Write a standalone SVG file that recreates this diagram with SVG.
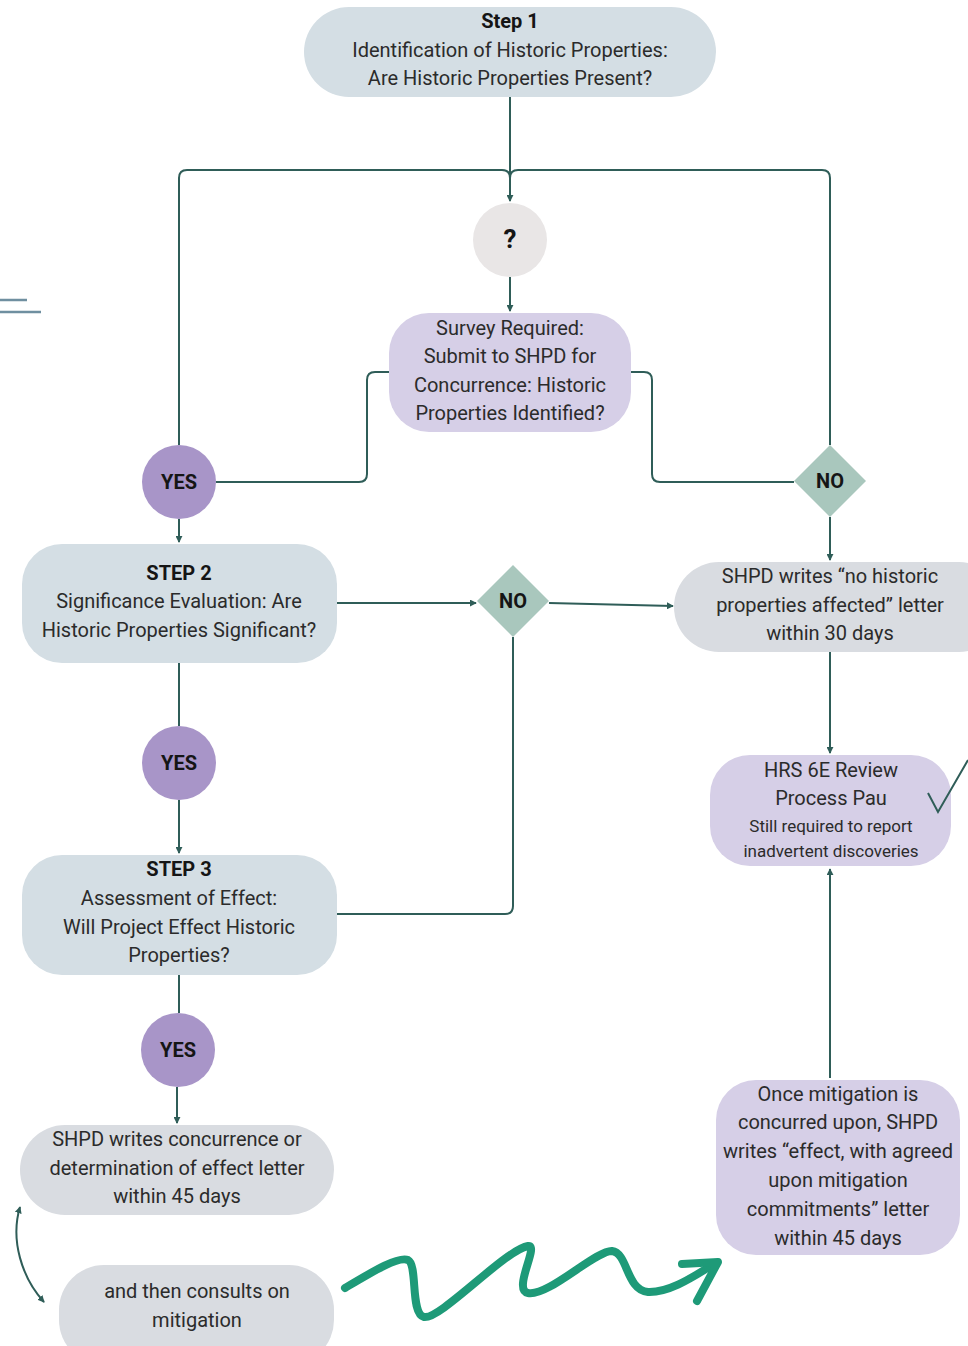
<svg xmlns="http://www.w3.org/2000/svg" width="968" height="1346" viewBox="0 0 968 1346">
<defs>
<marker id="arr" viewBox="0 0 8 8" refX="7" refY="4" markerWidth="7" markerHeight="7" markerUnits="userSpaceOnUse" orient="auto-start-reverse"><path d="M0,0 L8,4 L0,8 z" fill="#2f5d58"/></marker>
<style>
.t{font-family:Roboto,"Liberation Sans",sans-serif;font-size:20px;fill:#2b2b2b;text-anchor:middle}
.b{font-weight:bold;fill:#151515}
.s{font-size:17px}
.step{fill:#d4dee4}
.grey{fill:#d9dce1}
.purp{fill:#d6cfe7}
.yes{fill:#a895c8}
.no{fill:#a9c7bd}
.ln{fill:none;stroke:#2f5d58;stroke-width:2}
</style>
</defs>
<rect width="968" height="1346" fill="#ffffff"/>

<g id="connectors">
<path class="ln" d="M510,97 V201" marker-end="url(#arr)"/>
<path class="ln" d="M179,445 V178 Q179,170 187,170 H502 Q510,170 510,178"/>
<path class="ln" d="M830,445 V178 Q830,170 822,170 H518 Q510,170 510,178"/>
<path class="ln" d="M510,277 V311" marker-end="url(#arr)"/>
<path class="ln" d="M389,372 H375 Q367,372 367,380 V474 Q367,482 359,482 H216"/>
<path class="ln" d="M631,372 H644 Q652,372 652,380 V474 Q652,482 660,482 H794"/>
<path class="ln" d="M179,519 V542" marker-end="url(#arr)"/>
<path class="ln" d="M337,603 H476" marker-end="url(#arr)"/>
<path class="ln" d="M549,603 L673,606" marker-end="url(#arr)"/>
<path class="ln" d="M513,637 V906 Q513,914 505,914 H337"/>
<path class="ln" d="M830,517 V560" marker-end="url(#arr)"/>
<path class="ln" d="M830,652 V753" marker-end="url(#arr)"/>
<path class="ln" d="M179,663 V726"/>
<path class="ln" d="M179,800 V853" marker-end="url(#arr)"/>
<path class="ln" d="M179,975 V1013"/>
<path class="ln" d="M177,1087 V1123" marker-end="url(#arr)"/>
<path class="ln" d="M830,1078 V869" marker-end="url(#arr)"/>
<path class="ln" d="M20,1207 C10,1240 22,1278 44,1302" marker-start="url(#arr)" marker-end="url(#arr)"/>
<path d="M345,1288 C372,1272 398,1256 408,1260 C418,1265 410,1314 424,1317 C440,1320 505,1250 528,1246 C540,1244 512,1290 528,1293 C548,1297 596,1250 612,1251 C628,1253 626,1290 648,1292 C672,1293 700,1272 716,1263" fill="none" stroke="#1e9a78" stroke-width="8" stroke-linecap="round" stroke-linejoin="round"/>
<path d="M682,1264 L718,1262 L697,1301" fill="none" stroke="#1e9a78" stroke-width="8" stroke-linecap="round" stroke-linejoin="round"/>
</g>

<g id="step1">
<rect class="step" x="304" y="7" width="412" height="90" rx="45"/>
<text class="t b" x="510" y="28">Step 1</text>
<text class="t" x="510" y="57">Identification of Historic Properties:</text>
<text class="t" x="510" y="85">Are Historic Properties Present?</text>
</g>

<g id="q">
<circle cx="510" cy="240" r="37" fill="#e9e6e6"/>
<text class="t b" x="510" y="248" style="font-size:26px">?</text>
</g>

<g id="survey">
<rect class="purp" x="389" y="313" width="242" height="119" rx="40"/>
<text class="t" x="510" y="335">Survey Required:</text>
<text class="t" x="510" y="363">Submit to SHPD for</text>
<text class="t" x="510" y="392">Concurrence: Historic</text>
<text class="t" x="510" y="420">Properties Identified?</text>
</g>

<g id="yes1">
<circle class="yes" cx="179" cy="482" r="37"/>
<text class="t b" x="179" y="489">YES</text>
</g>

<g id="no1">
<path class="no" d="M830,445 L866,481 L830,517 L794,481 z"/>
<text class="t b" x="830" y="488">NO</text>
</g>

<g id="step2">
<rect class="step" x="22" y="544" width="315" height="119" rx="40"/>
<text class="t b" x="179" y="580">STEP 2</text>
<text class="t" x="179" y="608">Significance Evaluation: Are</text>
<text class="t" x="179" y="637">Historic Properties Significant?</text>
</g>

<g id="no2">
<path class="no" d="M513,565 L549,601 L513,637 L477,601 z"/>
<text class="t b" x="513" y="608">NO</text>
</g>

<g id="nohist">
<rect class="grey" x="674" y="562" width="330" height="90" rx="45"/>
<text class="t" x="830" y="583">SHPD writes “no historic</text>
<text class="t" x="830" y="612">properties affected” letter</text>
<text class="t" x="830" y="640">within 30 days</text>
</g>

<g id="yes2">
<circle class="yes" cx="179" cy="763" r="37"/>
<text class="t b" x="179" y="770">YES</text>
</g>

<g id="hrs">
<rect class="purp" x="710" y="755" width="241" height="111" rx="40"/>
<text class="t" x="831" y="777">HRS 6E Review</text>
<text class="t" x="831" y="805">Process Pau</text>
<text class="t s" x="831" y="832">Still required to report</text>
<text class="t s" x="831" y="857">inadvertent discoveries</text>
</g>

<g id="step3">
<rect class="step" x="22" y="855" width="315" height="120" rx="40"/>
<text class="t b" x="179" y="876">STEP 3</text>
<text class="t" x="179" y="905">Assessment of Effect:</text>
<text class="t" x="179" y="934">Will Project Effect Historic</text>
<text class="t" x="179" y="962">Properties?</text>
</g>

<g id="yes3">
<circle class="yes" cx="178" cy="1050" r="37"/>
<text class="t b" x="178" y="1057">YES</text>
</g>

<g id="concur">
<rect class="grey" x="20" y="1125" width="314" height="90" rx="45"/>
<text class="t" x="177" y="1146">SHPD writes concurrence or</text>
<text class="t" x="177" y="1175">determination of effect letter</text>
<text class="t" x="177" y="1203">within 45 days</text>
</g>

<g id="consult">
<rect class="grey" x="59" y="1265" width="275" height="100" rx="45"/>
<text class="t" x="197" y="1298">and then consults on</text>
<text class="t" x="197" y="1327">mitigation</text>
</g>

<g id="mitig">
<rect class="purp" x="716" y="1080" width="244" height="175" rx="40"/>
<text class="t" x="838" y="1101">Once mitigation is</text>
<text class="t" x="838" y="1129">concurred upon, SHPD</text>
<text class="t" x="838" y="1158">writes “effect, with agreed</text>
<text class="t" x="838" y="1187">upon mitigation</text>
<text class="t" x="838" y="1216">commitments” letter</text>
<text class="t" x="838" y="1245">within 45 days</text>
</g>

<g id="decor">
<path d="M0,300 H27 M0,312 H41" stroke="#6f8fa0" stroke-width="2.5" fill="none"/>
<path d="M928,793 L938,812 L968,760" stroke="#2f5d58" stroke-width="2" fill="none"/>
</g>
</svg>
